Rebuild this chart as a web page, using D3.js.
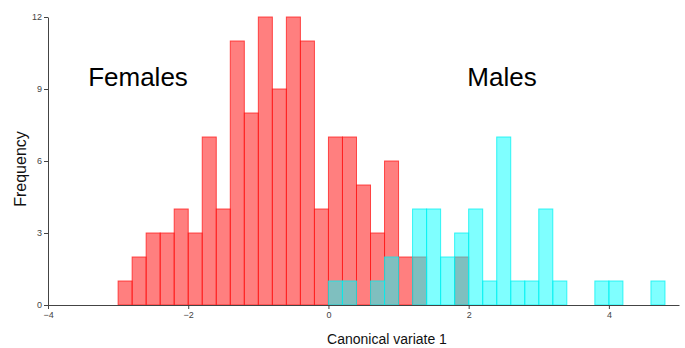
<!DOCTYPE html>
<html lang="en">
<head>
    <meta charset="UTF-8">
    <title>Canonical variate histogram</title>
    <script src="https://d3js.org/d3.v7.min.js"></script>
    <style>
        body {
            margin: 0;
            padding: 0;
            background: #fff;
            overflow: hidden;
            font-family: Arial, "Liberation Sans", sans-serif;
        }
        svg {
            display: block;
        }
        .axis path, .axis line {
            stroke: #444;
        }
        .axis text {
            fill: #444;
            font-size: 9px;
            font-family: Arial, "Liberation Sans", sans-serif;
        }
    </style>
</head>
<body>
    <svg id="chart" width="685" height="348"></svg>

    <script>
        // bin width of the histogram
        const binWidth = 0.2;

        // females: bin start and count
        const femaleBins = [-3.0, -2.8, -2.6, -2.4, -2.2, -2.0, -1.8, -1.6, -1.4, -1.2, -1.0, -0.8, -0.6,
                            -0.4, -0.2, 0.0, 0.2, 0.4, 0.6, 0.8, 1.0, 1.2, 1.4, 1.6, 1.8];
        const femaleCounts = [1, 2, 3, 3, 4, 3, 7, 4, 11, 8, 12, 9, 12,
                              11, 4, 7, 7, 5, 3, 6, 2, 2, 0, 0, 2];

        // males: bin start and count
        const maleBins = [0.0, 0.2, 0.4, 0.6, 0.8, 1.0, 1.2, 1.4, 1.6, 1.8, 2.0, 2.2, 2.4,
                          2.6, 2.8, 3.0, 3.2, 3.4, 3.6, 3.8, 4.0, 4.2, 4.4, 4.6];
        const maleCounts = [1, 1, 0, 1, 2, 0, 4, 4, 2, 3, 4, 1, 7,
                            1, 1, 4, 1, 0, 0, 1, 1, 0, 0, 1];

        const xTicks = [-4, -2, 0, 2, 4];
        const yTicks = [0, 3, 6, 9, 12];

        const svg = d3.select("#chart");

        const x = d3.scaleLinear().domain([-4, 5]).range([48, 679]);
        const y = d3.scaleLinear().domain([0, 12]).range([305, 17]);

        function drawBars(bins, counts, fill, stroke) {
            const data = bins.map((b, i) => ({ start: b, count: counts[i] }))
                .filter(d => d.count > 0);
            svg.append("g")
                .selectAll("rect")
                .data(data)
                .enter().append("rect")
                .attr("x", d => x(d.start))
                .attr("y", d => y(d.count))
                .attr("width", d => x(d.start + binWidth) - x(d.start))
                .attr("height", d => y(0) - y(d.count))
                .attr("fill", fill)
                .attr("fill-opacity", 0.5)
                .attr("stroke", stroke)
                .attr("stroke-opacity", 0.75)
                .attr("stroke-width", 1);
        }

        drawBars(femaleBins, femaleCounts, "#ff0000", "#ff1a1a");
        drawBars(maleBins, maleCounts, "#00ffff", "#00f0f0");

        // axes
        svg.append("g")
            .attr("class", "axis")
            .attr("transform", `translate(0,${y(0)})`)
            .call(d3.axisBottom(x).tickValues(xTicks).tickSize(4).tickSizeOuter(0).tickPadding(3));

        svg.append("g")
            .attr("class", "axis")
            .attr("transform", `translate(${x(-4)},0)`)
            .call(d3.axisLeft(y).tickValues(yTicks).tickSize(4).tickSizeOuter(0).tickPadding(2));

        // axis titles
        svg.append("text")
            .attr("x", 387)
            .attr("y", 344)
            .attr("text-anchor", "middle")
            .attr("font-size", "14px")
            .attr("fill", "#111")
            .text("Canonical variate 1");

        svg.append("text")
            .attr("transform", "translate(26,169) rotate(-90)")
            .attr("text-anchor", "middle")
            .attr("font-size", "16px")
            .attr("fill", "#111")
            .text("Frequency");

        // group labels
        svg.append("text")
            .attr("x", 138)
            .attr("y", 86)
            .attr("text-anchor", "middle")
            .attr("font-size", "26px")
            .attr("fill", "#000")
            .text("Females");

        svg.append("text")
            .attr("x", 502)
            .attr("y", 86)
            .attr("text-anchor", "middle")
            .attr("font-size", "26px")
            .attr("fill", "#000")
            .text("Males");
    </script>
</body>
</html>
